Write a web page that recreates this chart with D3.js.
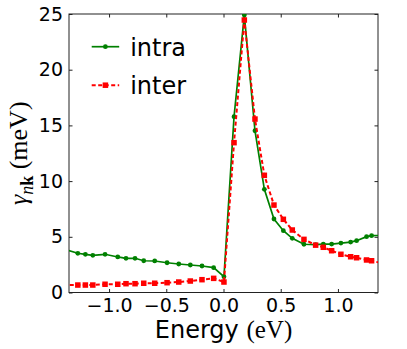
<!DOCTYPE html>
<html>
<head>
<meta charset="utf-8">
<script src="https://cdn.jsdelivr.net/npm/d3@7"></script>
<style>
  body { margin: 0; background: #fff; }
  text { font-family: "DejaVu Sans", sans-serif; }
  .serif { font-family: "Liberation Serif", "DejaVu Serif", serif; }
</style>
</head>
<body>
<div id="vis"></div>
<script>
// data (energy in eV, linewidth in meV)
const energy = [-1.40, -1.273, -1.207, -1.142, -1.035, -0.924, -0.852, -0.773, -0.697, -0.601,
                -0.493, -0.391, -0.290, -0.188, -0.086, 0.004, 0.092, 0.182, 0.275, 0.357,
                0.441, 0.523, 0.601, 0.703, 0.805, 0.872, 0.945, 1.026, 1.111, 1.163,
                1.250, 1.294, 1.40]
const intra = [3.90, 3.52, 3.43, 3.34, 3.43, 3.19, 3.07, 3.07, 2.85, 2.83,
               2.67, 2.56, 2.47, 2.38, 2.23, 1.42, 15.78, 24.9, 14.52, 9.26,
               6.60, 5.55, 4.86, 4.33, 4.30, 4.35, 4.35, 4.44, 4.53, 4.65,
               5.01, 5.10, 5.13]
const inter = [0.66, 0.67, 0.67, 0.67, 0.74, 0.74, 0.79, 0.79, 0.83, 0.83,
               0.88, 0.94, 1.03, 1.15, 1.27, 0.94, 13.45, 24.46, 15.57, 10.52,
               7.85, 6.57, 5.61, 4.77, 4.25, 4.06, 3.75, 3.43, 3.21, 3.12,
               2.92, 2.85, 2.60]
const xTicks = [-1.0, -0.5, 0.0, 0.5, 1.0]
const yTicks = [0, 5, 10, 15, 20, 25]
const seriesNames = ['intra', 'inter']

const margin = {top: 14, right: 29, bottom: 56.5, left: 69};
const width = 407 - margin.left - margin.right;
const height = 349 - margin.top - margin.bottom;

const svg = d3.select('#vis')
    .append('svg')
    .attr('width', 407)
    .attr('height', 349)
    .append('g')
    .attr('transform', `translate(${margin.left},${margin.top})`);

const xScale = d3.scaleLinear().domain([-1.35, 1.35]).range([0, width]);
const yScale = d3.scaleLinear().domain([0, 25]).range([height, 0]);

svg.append('clipPath').attr('id', 'clip')
    .append('rect').attr('width', width).attr('height', height);

const fmt = d => (d < 0 ? '\u2212' : '') + Math.abs(d).toFixed(1)

// ticks point inwards on all four sides
const tl = 3.5
svg.append('g')
    .attr('transform', `translate(0,${height})`)
    .call(d3.axisBottom(xScale).tickValues(xTicks).tickFormat(fmt).tickSize(-tl).tickPadding(6))
svg.append('g')
    .call(d3.axisTop(xScale).tickValues(xTicks).tickFormat('').tickSize(-tl))
svg.append('g')
    .call(d3.axisLeft(yScale).tickValues(yTicks).tickSize(-tl).tickPadding(6))
svg.append('g')
    .attr('transform', `translate(${width},0)`)
    .call(d3.axisRight(yScale).tickValues(yTicks).tickFormat('').tickSize(-tl))

svg.selectAll('.domain').remove()
svg.selectAll('.tick line').attr('stroke', '#222')
svg.selectAll('.tick text')
    .attr('fill', '#000')
    .style('font-size', '19px')
    .style('font-family', '"DejaVu Sans", sans-serif')

svg.append('rect')
    .attr('width', width).attr('height', height)
    .attr('fill', 'none').attr('stroke', '#222').attr('stroke-width', 1)

const pts = energy.map((e, i) => ({x: e, intra: intra[i], inter: inter[i]}))
const inside = pts.filter(d => d.x >= -1.35 && d.x <= 1.35)

const plot = svg.append('g').attr('clip-path', 'url(#clip)')

// intra: green solid line with dots
plot.append('path')
    .datum(pts)
    .attr('fill', 'none')
    .attr('stroke', 'green')
    .attr('stroke-width', 1.7)
    .attr('d', d3.line().x(d => xScale(d.x)).y(d => yScale(d.intra)))
plot.selectAll('.dot')
    .data(inside)
    .join('circle')
    .attr('class', 'dot')
    .attr('cx', d => xScale(d.x))
    .attr('cy', d => yScale(d.intra))
    .attr('r', 2.4)
    .attr('fill', 'green')

// inter: red dashed line with squares
const sq = 5.5
plot.append('path')
    .datum(pts)
    .attr('fill', 'none')
    .attr('stroke', 'red')
    .attr('stroke-width', 2)
    .attr('stroke-dasharray', '4,2.5')
    .attr('d', d3.line().x(d => xScale(d.x)).y(d => yScale(d.inter)))
plot.selectAll('.sq')
    .data(inside)
    .join('rect')
    .attr('class', 'sq')
    .attr('x', d => xScale(d.x) - sq / 2)
    .attr('y', d => yScale(d.inter) - sq / 2)
    .attr('width', sq).attr('height', sq)
    .attr('fill', 'red')

// legend (no frame)
const leg = svg.append('g').attr('transform', 'translate(22.7,32.7)')
seriesNames.forEach((name, i) => {
    const g = leg.append('g').attr('transform', `translate(0,${i * 38.5})`)
    if (i == 0) {
        g.append('line').attr('x1', 0).attr('x2', 27.5).attr('y1', 0).attr('y2', 0)
            .attr('stroke', 'green').attr('stroke-width', 1.7)
        g.append('circle').attr('cx', 13.7).attr('cy', 0).attr('r', 2.4).attr('fill', 'green')
    } else {
        g.append('line').attr('x1', 0).attr('x2', 27.5).attr('y1', 0).attr('y2', 0)
            .attr('stroke', 'red').attr('stroke-width', 2).attr('stroke-dasharray', '4,2.5')
        g.append('rect').attr('x', 13.7 - sq / 2).attr('y', -sq / 2)
            .attr('width', sq).attr('height', sq).attr('fill', 'red')
    }
    g.append('text')
        .attr('x', 38.5).attr('y', 9)
        .style('font-size', '24px')
        .text(name)
})

// axis labels
const xl = svg.append('text')
    .attr('x', width / 2).attr('y', height + 45.5)
    .attr('text-anchor', 'middle')
    .style('font-size', '24px')
xl.append('tspan').text('Energy ')
xl.append('tspan').attr('class', 'serif').style('font-size', '25px').text('(eV)')

const yl = svg.append('text')
    .attr('transform', `translate(${-42},${height / 2}) rotate(-90)`)
    .attr('text-anchor', 'middle')
    .attr('class', 'serif')
    .style('font-size', '26px')
yl.append('tspan').style('font-style', 'italic').text('\u03b3')
yl.append('tspan').attr('dy', 6).style('font-size', '18px').style('font-style', 'italic').text('n')
yl.append('tspan').style('font-size', '18px').style('font-weight', 'bold').text('k')
yl.append('tspan').attr('dy', -6).text(' (meV)')
</script>
</body>
</html>
